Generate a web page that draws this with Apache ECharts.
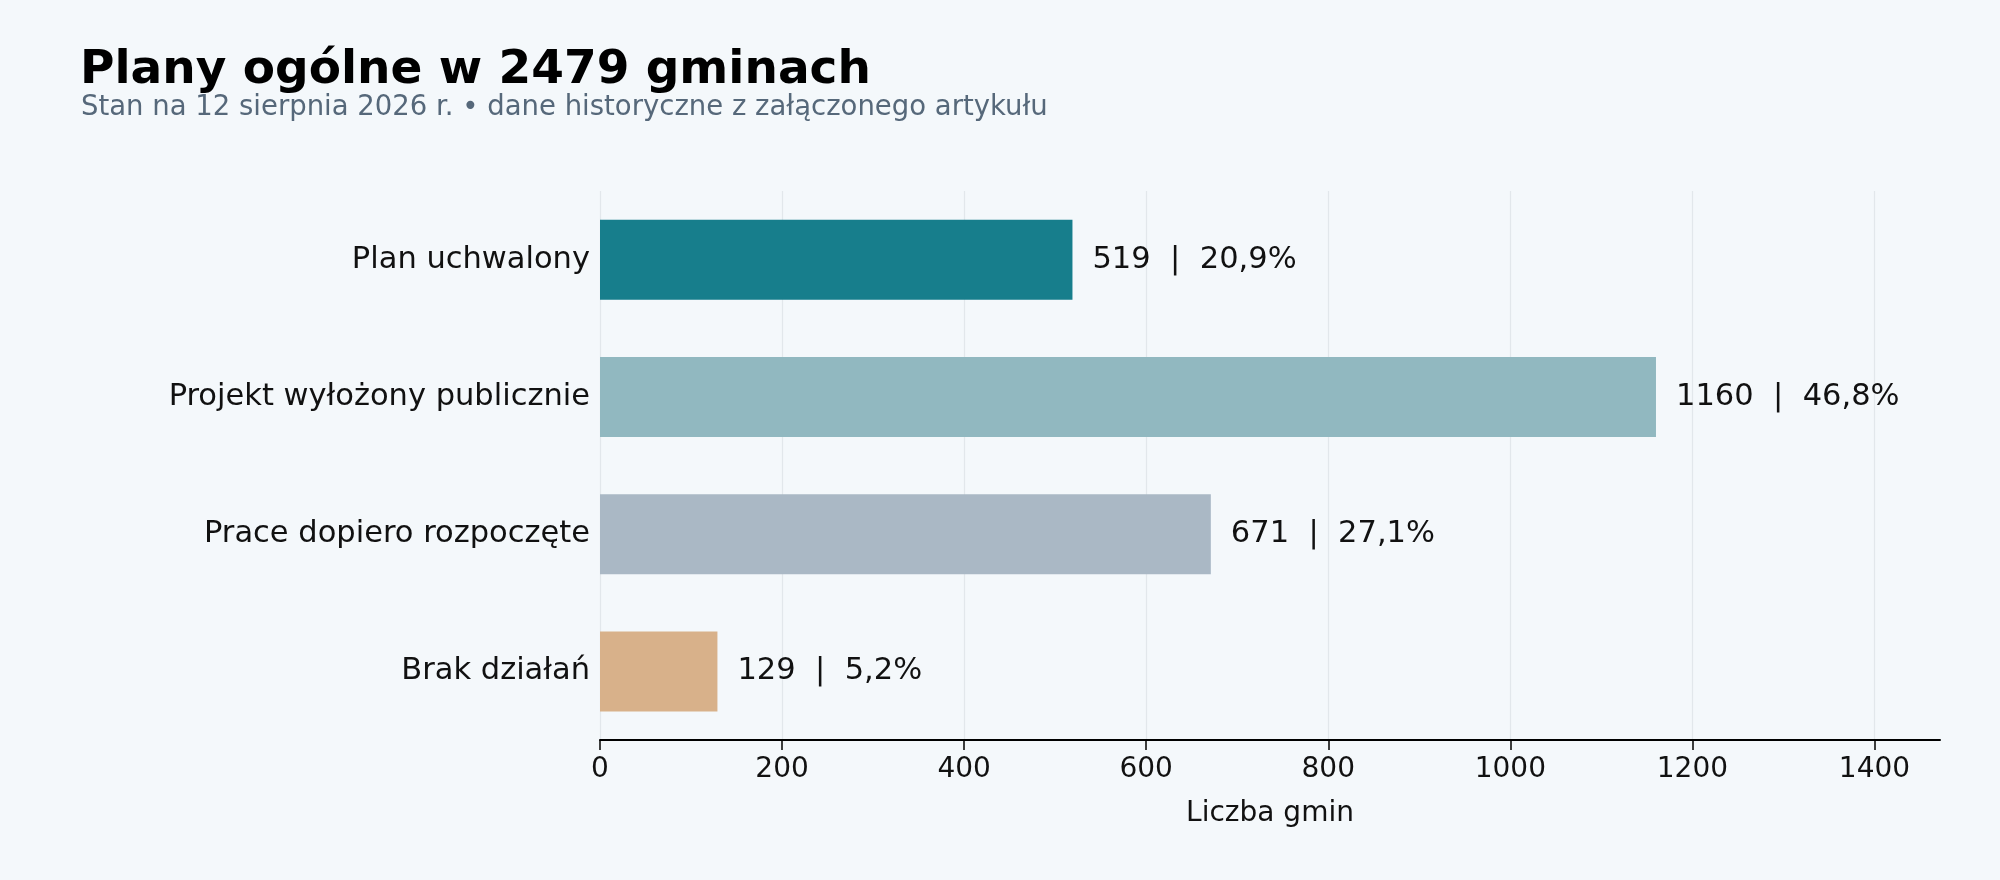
<!DOCTYPE html>
<html>
<head>
<meta charset="utf-8">
<script src="https://cdn.jsdelivr.net/npm/echarts@6/dist/echarts.min.js"></script>
<style>
    html, body { margin: 0; padding: 0; background: #f4f8fb; }
    #chart { width: 2000px; height: 880px; }
</style>
</head>
<body>
<div id="chart"></div>
<script>
// --- data ---
const categories = ['Plan uchwalony', 'Projekt wyłożony publicznie', 'Prace dopiero rozpoczęte', 'Brak działań'];
const counts = [519, 1160, 671, 129];
const shares = ['20,9%', '46,8%', '27,1%', '5,2%'];
const barColors = ['#177e8c', '#91b8c0', '#aab8c5', '#d8b18a'];
const xTicks = [0, 200, 400, 600, 800, 1000, 1200, 1400];

const FONT = '"DejaVu Sans", sans-serif';

const chart = echarts.init(document.getElementById('chart'), null, { renderer: 'canvas' });

chart.setOption({
    backgroundColor: '#f4f8fb',
    animation: false,
    title: [
        {
            text: 'Plany ogólne w 2479 gminach',
            left: 75, top: 42,
            textStyle: { fontFamily: FONT, fontSize: 47, fontWeight: 'bold', color: '#000' }
        },
        {
            text: 'Stan na 12 sierpnia 2026 r. • dane historyczne z załączonego artykułu',
            left: 76, top: 89,
            textStyle: { fontFamily: FONT, fontSize: 27.5, fontWeight: 'normal', color: '#56687a' }
        }
    ],
    grid: { left: 600, right: 60, top: 191, bottom: 140, containLabel: false },
    xAxis: {
        type: 'value',
        min: 0,
        max: 1472,
        interval: 200,
        name: 'Liczba gmin',
        nameLocation: 'middle',
        nameGap: 60,
        nameTextStyle: { fontFamily: FONT, fontSize: 28, color: '#111' },
        axisLine: { show: true, lineStyle: { color: '#000', width: 2 } },
        axisTick: { show: true, length: 10, customValues: xTicks, lineStyle: { color: '#000', width: 1.5 } },
        axisLabel: {
            customValues: xTicks,
            formatter: v => String(v),
            fontFamily: FONT, fontSize: 28, color: '#111', margin: 16
        },
        splitLine: {
            show: true,
            lineStyle: { color: ['#e2e7eb', '#e2e7eb', '#e2e7eb', '#e2e7eb', '#e2e7eb', '#e2e7eb', '#e2e7eb', '#e2e7eb', 'transparent'], width: 1.2 }
        }
    },
    yAxis: {
        type: 'category',
        inverse: true,
        data: categories,
        axisLine: { show: false },
        axisTick: { show: false },
        axisLabel: { fontFamily: FONT, fontSize: 30.5, color: '#111', margin: 10 }
    },
    series: [{
        type: 'bar',
        barWidth: 80,
        data: counts.map((v, i) => ({ value: v, itemStyle: { color: barColors[i] } })),
        label: {
            show: true,
            position: 'right',
            distance: 20,
            fontFamily: FONT,
            fontSize: 30.5,
            color: '#111',
            formatter: p => p.value + '  |  ' + shares[p.dataIndex]
        }
    }]
});
</script>
</body>
</html>
